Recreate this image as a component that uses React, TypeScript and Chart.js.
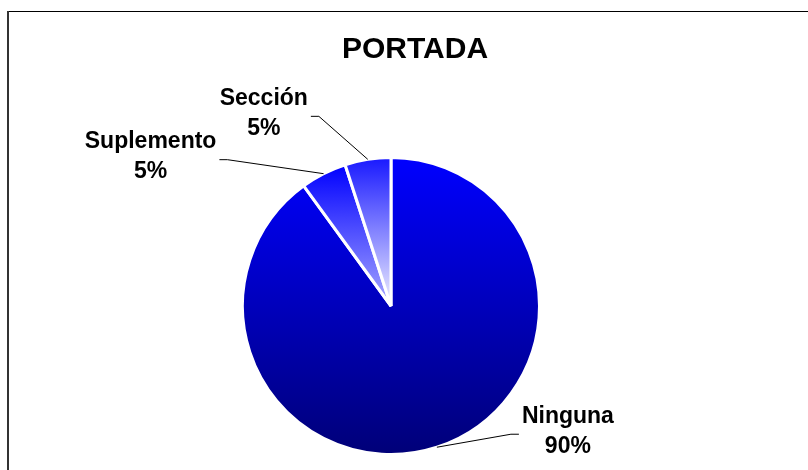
import React, { useEffect, useRef } from "react";
import { Chart, registerables } from "chart.js";

Chart.register(...registerables);

const TITLE = "PORTADA";
const categories = ["Ninguna", "Suplemento", "Sección"];
const values = [90, 5, 5];
// vertical gradient stops (top -> bottom) for each slice
const gradientTop = ["#0000ff", "#0000ff", "#1818ff"];
const gradientBottom = ["#000078", "#a8a8ff", "#f0f0ff"];
// label centre offsets from the slice's outer mid-point
const labelOffsets = [
  [131, -16],
  [-173, -17],
  [-104, -46],
];

const FONT = "'Liberation Sans', Arial, sans-serif";

function sliceGradient(ctx: any) {
  const chart = ctx.chart;
  const i = ctx.dataIndex;
  const area = chart.chartArea;
  if (!area) return gradientTop[i];
  const cx = (area.left + area.right) / 2;
  const cy = (area.top + area.bottom) / 2;
  const r = (Math.min(area.right - area.left, area.bottom - area.top) - 3) / 2;
  const total = values.reduce((a, b) => a + b, 0);
  let start = -Math.PI / 2;
  for (let k = 0; k < i; k++) start += (values[k] / total) * Math.PI * 2;
  const end = start + (values[i] / total) * Math.PI * 2;
  let minY = cy;
  let maxY = cy;
  for (let s = 0; s <= 60; s++) {
    const a = start + ((end - start) * s) / 60;
    const y = cy + Math.sin(a) * r;
    minY = Math.min(minY, y);
    maxY = Math.max(maxY, y);
  }
  const g = chart.ctx.createLinearGradient(0, minY, 0, maxY);
  g.addColorStop(0, gradientTop[i]);
  g.addColorStop(1, gradientBottom[i]);
  return g;
}

const framePlugin = {
  id: "frame",
  beforeDraw(chart: any) {
    const c = chart.ctx;
    c.save();
    c.fillStyle = "#ffffff";
    c.fillRect(0, 0, chart.width, chart.height);
    c.fillStyle = "#000000";
    c.fillRect(7, 11, chart.width - 7, 1);
    c.fillStyle = "#333333";
    c.fillRect(7, 11, 2, chart.height - 11);
    c.restore();
  },
};

const labelPlugin = {
  id: "pieLabels",
  afterDatasetsDraw(chart: any) {
    const c = chart.ctx;
    const meta = chart.getDatasetMeta(0);
    const total = values.reduce((a, b) => a + b, 0);
    c.save();
    // title
    c.font = `bold 30px ${FONT}`;
    c.fillStyle = "#000";
    c.textAlign = "center";
    c.textBaseline = "middle";
    c.fillText(TITLE, 415, 50);

    c.font = `bold 23px ${FONT}`;
    meta.data.forEach((arc: any, i: number) => {
      const mid = (arc.startAngle + arc.endAngle) / 2;
      const ex = arc.x + Math.cos(mid) * arc.outerRadius;
      const ey = arc.y + Math.sin(mid) * arc.outerRadius;
      const lx = ex + labelOffsets[i][0];
      const ly = ey + labelOffsets[i][1];
      const l1 = categories[i];
      const l2 = Math.round((values[i] / total) * 100) + "%";
      c.fillStyle = "#000";
      c.fillText(l1, lx, ly - 15);
      c.fillText(l2, lx, ly + 15);
      const half = Math.max(c.measureText(l1).width, c.measureText(l2).width) / 2;
      const dir = labelOffsets[i][0] < 0 ? 1 : -1;
      const sx = lx + dir * (half + 3);
      const sy = ly + 3;
      c.strokeStyle = "#000";
      c.lineWidth = 1;
      c.beginPath();
      c.moveTo(sx, sy);
      c.lineTo(sx + dir * 8, sy);
      c.lineTo(ex, ey);
      c.stroke();
    });
    c.restore();
  },
};

export default function App() {
  const ref = useRef<HTMLCanvasElement>(null);
  useEffect(() => {
    if (!ref.current) return;
    const chart = new Chart(ref.current, {
      type: "pie",
      data: {
        labels: categories,
        datasets: [
          {
            data: values,
            backgroundColor: sliceGradient as any,
            borderColor: "#ffffff",
            borderWidth: 3,
          },
        ],
      },
      options: {
        responsive: false,
        animation: false,
        layout: { padding: { top: 156, bottom: 14, left: 0, right: 26 } },
        plugins: {
          legend: { display: false },
          tooltip: { enabled: false },
          title: { display: false },
        },
      },
      plugins: [framePlugin, labelPlugin],
    });
    return () => chart.destroy();
  }, []);
  return (
    <div style={{ position: "fixed", left: 0, top: 0, width: 808, height: 470, background: "#fff" }}>
      <canvas ref={ref} width={808} height={470} />
    </div>
  );
}
